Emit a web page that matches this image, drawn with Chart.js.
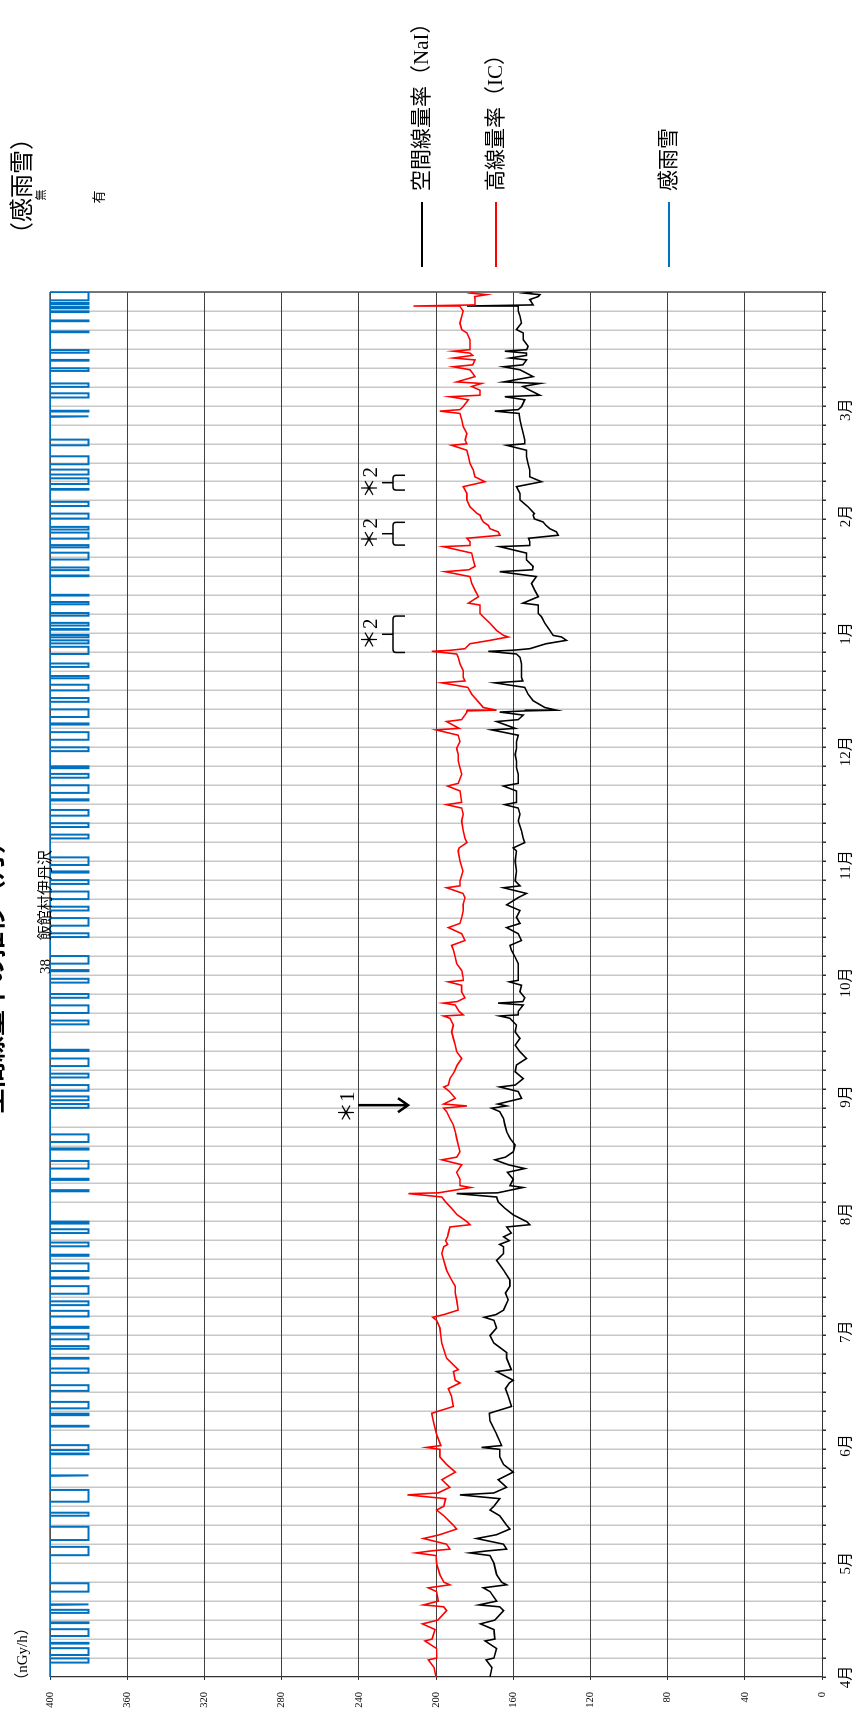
<!DOCTYPE html>
<html lang="ja">
<head>
<meta charset="UTF-8">
<title>空間線量率の推移 38 飯館村伊丹沢</title>
<script src="https://cdn.jsdelivr.net/npm/chart.js"></script>
<style>
  html, body { margin: 0; padding: 0; background: #fff; }
  #page { position: relative; width: 860px; height: 1712px; overflow: hidden; }
  /* the chart is drawn landscape and turned a quarter turn to the left */
  #wrap { position: absolute; left: 0; top: 0; width: 1712px; height: 860px;
          transform-origin: 0 0; transform: translateY(1712px) rotate(-90deg); }
</style>
</head>
<body>
<div id="page"><div id="wrap"><canvas id="chart" width="1712" height="860"></canvas></div></div>

<script>
// ---- data: days since 1 April, dose rates in nGy/h ----
const days = [0,2.5,4.5,5,7.5,9.5,10,12.5,14,15,17.5,18.5,19,20,22.5,23.5,24.3,25,27,30,32,32.7,33.2,33.7,35,36.5,37.5,39,40,42.5,44,45,47,48,48.5,50,52,54,56,58,
  60,60.5,61,64,67.5,69.5,71.3,74,76,77.5,78.2,80.5,81,84,85.5,88,90,92,94,94.8,95.5,96.7,99.4,101.2,103,104.6,107.2,109.8,111.6,113.4,114,115,116,117,118.6,119.2,
  120,121.8,123.5,125.2,126.5,127.4,127.6,129,129.5,131.2,133,134,135,136.3,137,138.4,140.2,142,143.7,145.5,147.2,149,149.9,150.5,151,152.5,154.3,155.5,156,157.7,159.5,
  161.3,163,164.8,166.5,168.3,170,171.8,173.6,174.2,174.5,175.4,177.1,177.6,178,179,180.6,182.3,183.2,183.6,184.5,186.2,188,189.7,191.5,192.8,194.1,195.9,197.5,198.6,
  200.2,202,203.5,205.4,206.5,208,208.5,209.8,212.4,215,217.7,218.5,219.9,221,223,225.6,227.4,229,229.9,230.5,233.5,234.8,235.5,237.9,239.6,241.4,243.1,
  244.7,246.5,248.2,249.6,250,251.8,252.3,253.5,254.3,254.6,254.8,255.5,257.3,259,260.8,262,262.5,263.4,265.2,267,268.7,269.6,270.3,270.6,271,272.3,273.2,274.1,274.5,
  275.8,277.7,279.4,280.3,282.5,283,284.7,286.4,288.2,290,291.3,291.8,292.7,294.4,296.2,297.9,298.2,299.2,300.1,300.9,301.8,302.6,303.5,304.4,305.2,306.2,
  306.6,308.4,310.2,311.9,313.7,315,316.3,318.1,319.8,321.6,323.3,324.6,325,326,327.7,329.5,331.3,333,333.6,334,334.8,336.6,337.4,337.8,339.1,340.1,340.9,341.3,
  342.7,343.6,344.5,345.3,345.8,347.1,347.6,348.3,348.9,349.4,349.8,350.7,352.4,354.2,355.1,356.8,358.6,360,361.2,361.3,361.6,363,363.8,364.3,364.7,365];

// 空間線量率 (NaI)
const nai = [172,171,174,170,168.6,174.6,169.5,170,177,169.5,165,167,177.8,168.6,172,175.5,163.4,166,168.6,170,172,182.4,174,163.4,165,179,168.6,161.7,163.4,167,172,170,167,187.6,170,163.4,167.8,160,165,167,
  167,176.4,166,168.6,172,172.4,160.9,162.6,164,162,160,168.6,161,163.4,163.4,170,172,168.6,170,175,169,165,162.6,164,161.7,161.7,165,168.6,165,165,167,162,165,161,163.4,151.4,
  153,160,164.3,167.8,168.6,189.3,168,155,161.7,160,163,154,162.6,169.5,164,160,159,161.7,163.4,164.3,165,167,171.2,163.4,168,155.7,157.4,167,159,154.8,159,
  158.3,153.1,156.5,159,156.5,159,158.3,161.7,167,157.4,157.4,154.8,167.8,155,154,156.5,155.7,162,157.4,157.4,157.4,157.4,159,160.9,161.7,155.7,157.4,163.4,156.5,
  158.3,156.5,163.4,157.4,153.1,165,156.5,159,158.3,159,158.3,160,154,154.8,155.7,157.4,156.5,157.4,164.3,158.3,158.3,165,157.4,157.4,158.3,158.3,159,
  158.3,158.3,157.4,171.2,159,168.6,157.4,154.8,167,154,137.6,143.6,149.7,152.3,154,169.5,155,155.7,155.7,155.7,156.5,158.3,172.9,160,151.4,143,132.4,135,139.3,
  141,143.6,145.3,147,147,155,147,148.8,150.5,148,167,150,149.7,153.1,153.1,167,151.4,151.4,152,136.7,137.6,141,143,144.5,149,149.7,
  149,152.3,156.5,156.5,158.3,145.3,151.4,151.4,152.3,153.1,153.1,163.4,154,154,154.8,155.7,156.5,157,169.5,157.4,155.7,154,164.3,146.2,151.4,155,146.2,165,
  149.7,153.1,156.5,165,155,153.1,161.7,153.1,153.1,164.3,153,152.3,154.8,154.8,158.3,155.7,156.5,157.4,157.4,184,149.7,151.4,147,146.2,154,150];

// 高線量率 (IC)
const ic = [200,201,204,199.6,199.7,205.7,202,200.5,207,199,194.5,196,206.5,198.8,199.7,204,192.8,196,198,199.7,200,210.3,203,192.8,194.5,206.5,198,189.3,191,196,199.7,196,195,214.8,199,192.8,197,190,194.5,198,
  198,205,197.5,199.7,201.4,202.2,191,192,193.6,187.6,190,191,188.5,194.5,195.5,197,197.5,198,199.7,201.7,196,188.5,189.3,190,190,191.9,194.5,196,197,196,194,195,194,193.6,192.8,182.4,
  184,189,191.9,195,197,214.3,198.8,182,187.6,187.6,189.3,188,186.7,197,189.3,187.6,188.5,189.3,190,191,192.8,194.5,196,184,196,190,193,196,193.6,192.8,190.5,
  189,186.7,189.3,190,191,191.9,191,192.8,196,185.9,188,190,196.2,189,185,186.7,186.7,193.6,185.9,186,186.7,189.3,190,190.9,191.9,185,186.7,193.6,187.6,
  186.7,185.9,186,185,186,194.5,187.6,187.6,186,187.6,188.5,188,184,185,185.9,186.7,185.9,186.7,194.5,186.7,187.6,194,188.5,186.7,187.6,188.5,188.5,
  189.3,187.6,188.5,200,188,194.5,186.7,185,184,184,168.6,175.5,178.6,181.5,183.5,197,185,185.9,185.9,187.6,188.5,189.3,202.2,192,185,182.4,172,162.6,165,
  168.6,172,175.5,177.2,177.2,183.2,178,179.8,181.5,182.4,195.3,183,179.8,180.7,181.5,196.2,182.4,182.4,184,166.9,167.8,172,172.9,175.5,176.4,177.2,
  178.6,182.4,184,184,185.9,174.7,179.8,180.7,182.4,183.2,184,191.9,184,184.9,184,185.9,186.7,187.6,198,187.6,185.9,183.2,192.8,177.2,177.2,181.5,176.4,189.3,
  179.8,181,182.4,191,181,179.8,191,181,182.4,191,182.4,182.4,182.4,184,186.7,187.6,186.7,185.9,187.6,211.7,179.8,179.8,180,173.8,182,180];

// 感雨雪: start and end day of each wet spell
const rainStart = [3.8,5.8,8.8,10.8,14.2,16.9,19.0,22.5,32.1,36.1,42.5,46.2,53.0,58.7,59.8,66.0,69.0,70.8,75.4,80.2,83.9,
  86.5,89,92,95,98,101,105,107,111,113.5,117,119.5,128,131,134,139,141,150,152,154.5,158,161,165,172,175,179,183,186,188,
  195,198,202,205,209,212,214,221,224,227,231,233,237,239.5,244,247,251,253,257,260,
  263.2,266.2,269.6,272.4,274.0,276.0,277.1,279.7,282.7,285.0,290.1,291.7,294.5,297.7,300.0,302.4,305.3,308.6,312.9,314.4,316.9,319.6,324.6,
  332.1,333.5,337.2,340.0,344.2,346.9,349.0,354.4,357.3,359.7,360.7,361.8,362.8];
const rainEnd = [4.9,7.6,9.0,12.6,14.4,17.7,19.2,24.7,34.3,39.6,43.3,49.3,53.2,58.9,61.1,66.2,69.4,72.5,76.9,81.3,84.1,
  87.2,90.5,92.3,96.5,99,103,105.3,109,111.3,114.5,118,120,128.3,131.3,136,139.3,143,151,153,156,159,163,165.3,173,177,180,184,186.3,190,
  196,200,203,207,210,212.3,216,222,225,228.5,231.3,235,238,240,245,249,251.3,255,258,261.5,
  263.8,267.1,271.5,273.2,274.6,276.2,277.8,280.4,283.3,285.2,290.3,292.4,296.3,298.3,301.6,303.1,306.6,309.7,313.1,315.9,318.2,321.7,326.1,
  332.3,333.7,338.3,340.9,344.9,347.1,349.7,354.6,357.5,359.9,361.1,362.1,365];

const monthDays = [0, 30, 61, 91, 122, 153, 183, 214, 244, 275, 306, 334];
const monthLabels = ['4月','5月','6月','7月','8月','9月','10月','11月','12月','1月','2月','3月'];

// notes: ＊1 arrow and ＊2 braces
const note1 = { day: 150.7, from: 240.4, to: 214.5 };
const note2Spans = [[270.0, 279.6], [298.3, 304.3], [312.8, 316.7]];

const SERIF = '"Liberation Serif", "Noto Sans CJK JP", serif';

// ---- build the points ----
function pairs(xs, ys) {
    return xs.map((d, i) => ({ x: d, y: ys[i] }));
}
const rainPts = [{ x: 0, y: 0 }];
rainStart.forEach((s, i) => {
    rainPts.push({ x: s, y: 0 }, { x: s, y: 1 }, { x: rainEnd[i], y: 1 }, { x: rainEnd[i], y: 0 });
});
rainPts.push({ x: 365, y: 0 });

const gridDays = [];
for (let d = 0; d <= 365; d += 5) gridDays.push(d);

// ---- extra drawing: legend, labels, notes ----
const extras = {
    id: 'extras',
    beforeDatasetsDraw(chart) {
        const { ctx, chartArea: a } = chart;
        ctx.save();
        ctx.strokeStyle = '#555';
        ctx.lineWidth = 1.5;
        ctx.beginPath();
        ctx.moveTo(a.right, a.top); ctx.lineTo(a.right, a.bottom);
        ctx.moveTo(a.left, a.top); ctx.lineTo(a.right, a.top);
        ctx.stroke();
        ctx.restore();
    },
    afterDraw(chart) {
        const { ctx } = chart;
        const xs = chart.scales.x, ys = chart.scales.y;
        ctx.save();
        ctx.fillStyle = '#000';
        ctx.textBaseline = 'middle';
        ctx.textAlign = 'center';

        // page heading, mostly cut off by the page edge
        ctx.font = 'bold 26px ' + SERIF;
        ctx.fillText('空間線量率の推移（月）', 741, -5);

        // axis captions
        ctx.font = '15px ' + SERIF;
        ctx.fillText('（nGy/h）', 58, 23);
        ctx.font = '24px ' + SERIF;
        ctx.fillText('（感雨雪）', 1526, 24);
        ctx.font = '11px ' + SERIF;
        ctx.fillText('無', 1517, 42);
        ctx.font = '13px ' + SERIF;
        ctx.fillText('有', 1515, 100);

        // station name
        ctx.font = '15px ' + SERIF;
        ctx.fillText('38　 飯館村伊丹沢', 800, 46);

        // legend
        const legendY = [422, 496, 669];
        chart.data.datasets.forEach((ds, i) => {
            ctx.strokeStyle = ds.borderColor;
            ctx.lineWidth = 2;
            ctx.beginPath();
            ctx.moveTo(1445, legendY[i]); ctx.lineTo(1510, legendY[i]);
            ctx.stroke();
            ctx.textAlign = 'left';
            ctx.font = '21px ' + SERIF;
            ctx.fillText(ds.label, 1521, legendY[i]);
        });

        // ＊1 arrow
        ctx.strokeStyle = '#000';
        ctx.lineWidth = 2.5;
        const ax = xs.getPixelForValue(note1.day);
        const y0 = ys.getPixelForValue(note1.from), y1 = ys.getPixelForValue(note1.to);
        ctx.beginPath();
        ctx.moveTo(ax, y0); ctx.lineTo(ax, y1);
        ctx.moveTo(ax - 7, y1 - 10); ctx.lineTo(ax, y1); ctx.lineTo(ax + 7, y1 - 10);
        ctx.stroke();
        ctx.textAlign = 'center';
        ctx.font = '21px ' + SERIF;
        ctx.fillText('＊1', ax - 2, ys.getPixelForValue(note1.from) - 10);

        // ＊2 braces
        ctx.lineWidth = 1.5;
        const yStem = ys.getPixelForValue(228), yBar = ys.getPixelForValue(222.3), yEnd = ys.getPixelForValue(216);
        note2Spans.forEach(([s, e]) => {
            const xa = xs.getPixelForValue(s), xb = xs.getPixelForValue(e), xm = (xa + xb) / 2;
            const r = 3;
            ctx.beginPath();
            ctx.moveTo(xm, yStem); ctx.lineTo(xm, yBar);
            ctx.moveTo(xa, yEnd); ctx.lineTo(xa, yBar + r);
            ctx.quadraticCurveTo(xa, yBar, xa + r, yBar);
            ctx.lineTo(xb - r, yBar);
            ctx.quadraticCurveTo(xb, yBar, xb, yBar + r);
            ctx.lineTo(xb, yEnd);
            ctx.stroke();
            ctx.font = '21px ' + SERIF;
            ctx.fillText('＊2', xm, ys.getPixelForValue(233.2));
        });
        ctx.restore();
    }
};

new Chart(document.getElementById('chart'), {
    type: 'line',
    data: {
        datasets: [{
            label: '空間線量率（NaI）',
            data: pairs(days, nai),
            borderColor: '#000000',
            borderWidth: 1.6,
            yAxisID: 'y',
            order: 2
        }, {
            label: '高線量率（IC）',
            data: pairs(days, ic),
            borderColor: '#ff0000',
            borderWidth: 1.6,
            yAxisID: 'y',
            order: 1
        }, {
            label: '感雨雪',
            data: rainPts,
            borderColor: '#0070c0',
            borderWidth: 2,
            yAxisID: 'y2',
            order: 3
        }]
    },
    options: {
        responsive: false,
        animation: false,
        devicePixelRatio: 1,
        elements: { point: { radius: 0 }, line: { tension: 0 } },
        layout: { padding: { top: 50, right: 292, left: 0, bottom: 0 } },
        plugins: { legend: { display: false }, tooltip: { enabled: false } },
        scales: {
            x: {
                type: 'linear', min: 0, max: 365, position: 'bottom',
                afterBuildTicks: s => { s.ticks = gridDays.map(v => ({ value: v })); },
                afterFit: s => { s.height = 5; },
                ticks: { display: false },
                grid: { color: '#c8c8c8', lineWidth: 1.5, tickColor: '#333', tickLength: 4 },
                border: { color: '#333', width: 1 }
            },
            x2: {
                type: 'linear', axis: 'x', min: 0, max: 365, position: 'bottom',
                afterBuildTicks: s => { s.ticks = monthDays.map(v => ({ value: v })); },
                afterFit: s => { s.height = 33; },
                ticks: {
                    autoSkip: false, maxRotation: 0, padding: 10, color: '#000',
                    font: { family: SERIF, size: 15 },
                    callback: v => monthLabels[monthDays.indexOf(v)] || ''
                },
                grid: { display: false, drawTicks: false },
                border: { display: false }
            },
            y: {
                min: 0, max: 400, position: 'left',
                afterFit: s => { s.width = 35; },
                ticks: { stepSize: 40, padding: 12, color: '#000', font: { family: SERIF, size: 10.5 } },
                grid: { color: '#404040', lineWidth: 1, tickColor: '#333', tickLength: 3 },
                border: { color: '#333', width: 1 }
            },
            y2: {
                display: false, min: 0, max: 20, reverse: true
            }
        }
    },
    plugins: [extras]
});
</script>
</body>
</html>
